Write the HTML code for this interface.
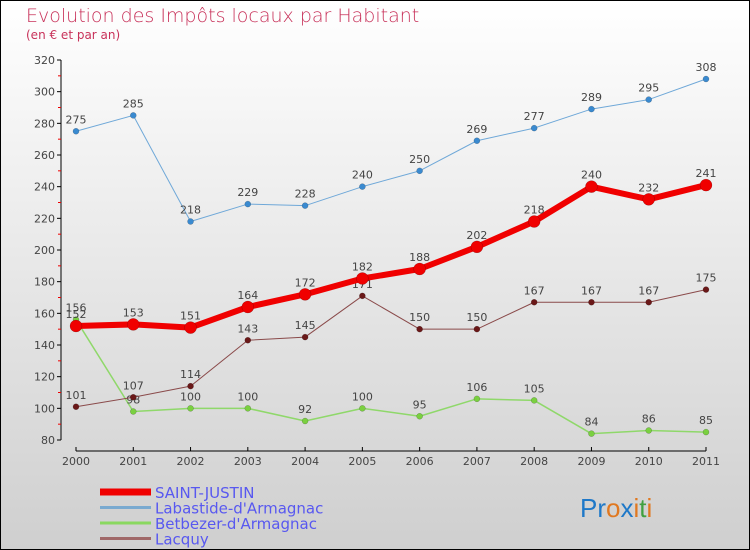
<!DOCTYPE html>
<html><head><meta charset="utf-8"><style>
body{margin:0}
#c{width:750px;height:550px;position:relative;box-sizing:border-box;border:1px solid #000;background:linear-gradient(#fff,#cfcfcf);font-family:"DejaVu Sans","Liberation Sans",sans-serif;overflow:hidden}
</style></head><body>
<div id="c">
<svg id="s" width="750" height="550" style="position:absolute;left:-1px;top:-1px">
<text x="26" y="22" font-size="19" fill="#c8325a" font-family="DejaVu Sans,sans-serif" style="font-weight:200">Evolution des Impôts locaux par Habitant</text>
<text x="26" y="39" font-size="12" fill="#c8325a">(en € et par an)</text>
<g id="g"></g>
<text x="580" y="517" font-size="26" font-family="Liberation Sans,sans-serif"><tspan fill="#1e78c8">Pr</tspan><tspan fill="#e07820">o</tspan><tspan fill="#1e78c8">x</tspan><tspan fill="#e07820">i</tspan><tspan fill="#40a040">t</tspan><tspan fill="#e07820">i</tspan></text>
</svg>
</div>
<script>
const years=[2000,2001,2002,2003,2004,2005,2006,2007,2008,2009,2010,2011];
const yTicks=[80,100,120,140,160,180,200,220,240,260,280,300,320];
const saintJustin=[152,153,151,164,172,182,188,202,218,240,232,241];
const labastide=[275,285,218,229,228,240,250,269,277,289,295,308];
const betbezer=[156,98,100,100,92,100,95,106,105,84,86,85];
const lacquy=[101,107,114,143,145,171,150,150,167,167,167,175];
const seriesNames=["SAINT-JUSTIN","Labastide-d'Armagnac","Betbezer-d'Armagnac","Lacquy"];
const NS="http://www.w3.org/2000/svg",g=document.getElementById('g');
const X=i=>76+i*(630/(years.length-1));
const Y=v=>440-(v-80)*(380/240);
function mk(t,a,p){const e=document.createElementNS(NS,t);for(const k in a)e.setAttribute(k,a[k]);(p||g).appendChild(e);return e;}
// y axis
let ya=mk('line',{x1:61,y1:Y(320),x2:61,y2:Y(80),stroke:'#000','stroke-width':1});


yTicks.forEach((v,i)=>{
 mk('line',{x1:57,x2:61,y1:Y(v),y2:Y(v),stroke:'#000'});
 if(i<yTicks.length-1)mk('line',{x1:58,x2:61,y1:Y(v+10),y2:Y(v+10),stroke:'#e00'});
 const t=mk('text',{x:55,y:Y(v)+4,'font-size':11,fill:'#444','text-anchor':'end'});t.textContent=v;
 
 
});
let xa=mk('line',{x1:76,x2:706,y1:451,y2:451,stroke:'#000'});


years.forEach((y,i)=>{
 mk('line',{x1:X(i),x2:X(i),y1:447,y2:451,stroke:'#000'});
 const t=mk('text',{x:X(i),y:465,'font-size':11,fill:'#444','text-anchor':'middle'});t.textContent=y;
 
 
});
function series(vals,col,dot,w,r,name){
 const p=mk('polyline',{points:vals.map((v,i)=>X(i)+','+Y(v)).join(' '),fill:'none',stroke:col,'stroke-width':w,'stroke-linejoin':'round'});
 
 
 vals.forEach((v,i)=>{
  const c=mk('circle',{cx:X(i),cy:Y(v),r:r,fill:dot,stroke:'rgba(0,0,0,0.3)','stroke-width':0.5});
  
  
  const t=mk('text',{x:X(i),y:Y(v)-8,'font-size':11,fill:'#444','text-anchor':'middle'});t.textContent=v;
  
  
 });
}
series(labastide,'#6fa8d8','#3a8ad0',1,3,'labastide');
series(betbezer,'#8fd86a','#7ad040',1.5,3,'betbezer');
series(lacquy,'#8a4a4a','#6a1818',1,3,'lacquy');
series(saintJustin,'#f00000','#f00000',6,6,'saint-justin');
const lcol=['#f00000','#7aaad0','#8ad860','#a06868'],lw=[7,3,3,3];
seriesNames.forEach((n,i)=>{
 const y=492+i*15.5;
 const l=mk('line',{x1:100,x2:151,y1:y,y2:y,stroke:lcol[i],'stroke-width':lw[i]});
 
 
 const t=mk('text',{x:155,y:y+6,'font-size':15,fill:'#5858f0'});t.textContent=n;
 
 
});
</script>
</body></html>
